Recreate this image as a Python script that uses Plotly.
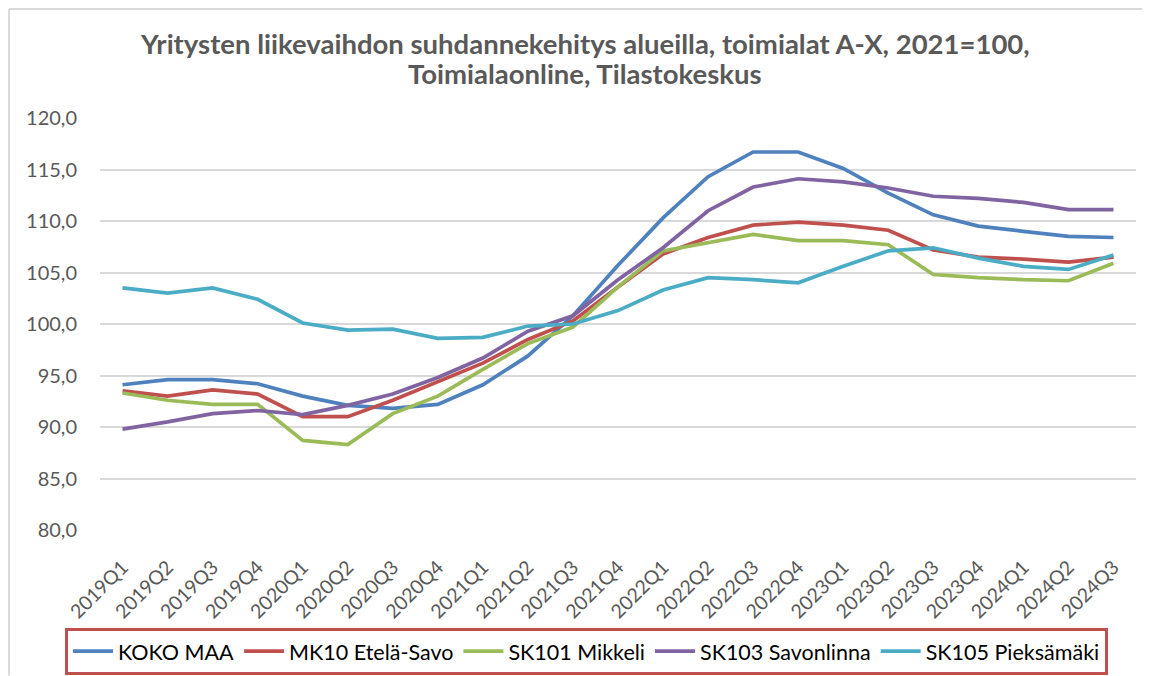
import plotly.graph_objects as go

quarters = ["2019Q1", "2019Q2", "2019Q3", "2019Q4",
            "2020Q1", "2020Q2", "2020Q3", "2020Q4",
            "2021Q1", "2021Q2", "2021Q3", "2021Q4",
            "2022Q1", "2022Q2", "2022Q3", "2022Q4",
            "2023Q1", "2023Q2", "2023Q3", "2023Q4",
            "2024Q1", "2024Q2", "2024Q3"]

koko_maa = [94.1, 94.6, 94.6, 94.2, 93.0, 92.1, 91.8, 92.2,
            94.1, 96.9, 100.8, 105.7, 110.3, 114.3, 116.7, 116.7,
            115.1, 112.7, 110.6, 109.5, 109.0, 108.5, 108.4]
etela_savo = [93.5, 93.0, 93.6, 93.2, 91.0, 91.0, 92.6, 94.4,
              96.2, 98.5, 100.3, 103.6, 106.8, 108.4, 109.6, 109.9,
              109.6, 109.1, 107.2, 106.5, 106.3, 106.0, 106.5]
mikkeli = [93.3, 92.6, 92.2, 92.2, 88.7, 88.3, 91.3, 93.0,
           95.6, 98.1, 99.7, 103.6, 107.1, 107.9, 108.7, 108.1,
           108.1, 107.7, 104.8, 104.5, 104.3, 104.2, 105.9]
savonlinna = [89.8, 90.5, 91.3, 91.6, 91.2, 92.1, 93.2, 94.8,
              96.7, 99.3, 100.8, 104.3, 107.4, 111.0, 113.3, 114.1,
              113.8, 113.2, 112.4, 112.2, 111.8, 111.1, 111.1]
pieksamaki = [103.5, 103.0, 103.5, 102.4, 100.1, 99.4, 99.5, 98.6,
              98.7, 99.8, 100.0, 101.3, 103.3, 104.5, 104.3, 104.0,
              105.6, 107.1, 107.4, 106.4, 105.6, 105.3, 106.7]

series_names = ["KOKO MAA", "MK10 Etelä-Savo", "SK101 Mikkeli",
                "SK103 Savonlinna", "SK105 Pieksämäki"]
series_values = [koko_maa, etela_savo, mikkeli, savonlinna, pieksamaki]
colors = ["#4F81BD", "#C0504D", "#9BBB59", "#8064A2", "#4BACC6"]

y_ticks = [80, 85, 90, 95, 100, 105, 110, 115, 120]
y_ticktext = ["80,0", "85,0", "90,0", "95,0", "100,0", "105,0", "110,0", "115,0", "120,0"]

title_lines = ["Yritysten liikevaihdon suhdannekehitys alueilla, toimialat A-X, 2021=100,",
               "Toimialaonline, Tilastokeskus"]

FONT = "Lato, 'Open Sans', sans-serif"

fig = go.Figure()
for name, vals, col in zip(series_names, series_values, colors):
    fig.add_trace(go.Scatter(
        x=list(range(len(quarters))), y=vals, name=name, mode="lines",
        line=dict(color=col, width=3.7),
    ))

# page body has an 8px default margin, so the figure is 8px smaller
fig.update_layout(
    width=1142, height=668,
    paper_bgcolor="white", plot_bgcolor="white",
    margin=dict(l=92, r=14, t=110, b=146, autoexpand=False),
    font=dict(family=FONT, color="#595959"),
    xaxis=dict(
        range=[-0.5, len(quarters) - 0.5],
        tickmode="array", tickvals=list(range(len(quarters))), ticktext=quarters,
        tickangle=-45, tickfont=dict(size=19.5, color="#595959"),
        showgrid=False, zeroline=False, showline=False, ticks="",
        ticklabelstandoff=21,
    ),
    yaxis=dict(
        range=[80, 120], tickmode="array", tickvals=y_ticks, ticktext=y_ticktext,
        tickfont=dict(size=20, color="#595959"),
        showgrid=True, gridcolor="#D9D9D9", gridwidth=1.5,
        zeroline=False, showline=False, ticks="", ticklabelstandoff=22,
    ),
    legend=dict(
        orientation="h", xref="paper", x=-0.0338, xanchor="left",
        y=-0.237, yanchor="top",
        bordercolor="#C0504D", borderwidth=3,
        font=dict(size=21.5, color="#000000", family=FONT),
        itemwidth=40, traceorder="normal",
    ),
    showlegend=True,
)

for line, yy in zip(title_lines, [1.182, 1.109]):
    fig.add_annotation(text=f"<b>{line}</b>", xref="paper", yref="paper",
                       x=0.468, y=yy, xanchor="center", yanchor="middle",
                       showarrow=False, font=dict(size=27.5, color="#595959", family=FONT))

# outer light-grey frame (screenshot border)
fig.add_shape(type="line", xref="paper", yref="paper", x0=-0.0878, x1=1.0135, y0=1.2646, y1=1.2646,
              line=dict(color="#D9D9D9", width=2), layer="above")
fig.add_shape(type="line", xref="paper", yref="paper", x0=-0.0878, x1=-0.0878, y0=-0.354, y1=1.2646,
              line=dict(color="#D9D9D9", width=2), layer="above")

fig.write_html("out.html")
